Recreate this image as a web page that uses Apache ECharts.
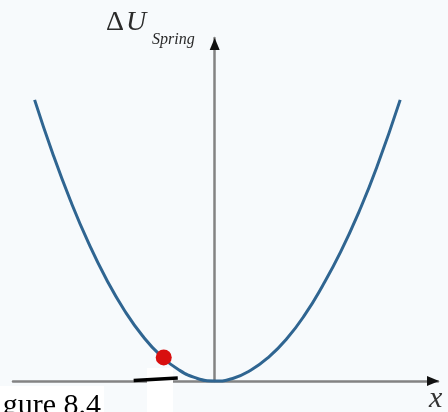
<!DOCTYPE html>
<html>
<head>
<meta charset="utf-8">
<script src="https://cdn.jsdelivr.net/npm/echarts@6/dist/echarts.min.js"></script>
<style>
  html, body { margin: 0; padding: 0; background: #f7fafc; }
  #chart { width: 448px; height: 412px; }
</style>
</head>
<body>
<div id="chart"></div>
<script>
// Spring potential energy curve: displacement x vs. ΔU_spring
const curveX = [-1.00, -0.90, -0.80, -0.70, -0.60, -0.50, -0.40, -0.30, -0.20, -0.10, 0.00,
                 0.10, 0.20, 0.30, 0.40, 0.50, 0.60, 0.70, 0.80, 0.90, 1.03];
const curveU = [1.00, 0.81, 0.64, 0.49, 0.36, 0.25, 0.16, 0.09, 0.04, 0.01, 0.00,
                0.009, 0.038, 0.085, 0.15, 0.235, 0.34, 0.46, 0.60, 0.76, 1.00];
// current position of the mass on the curve
const ballX = [-0.283];
const ballU = [0.084];
// short black stroke near the axis
const strokeX = [-0.45, -0.205];
const strokeU = [0.002, 0.011];
// axis ranges
const xRange = [-1.12, 1.24];
const uRange = [0, 1.22];

const zip = (a, b) => a.map((v, i) => [v, b[i]]);

const chart = echarts.init(document.getElementById('chart'), null, { renderer: 'canvas' });
const serif = "'Liberation Serif', 'DejaVu Serif', serif";
const axisGray = '#838383';

chart.setOption({
  backgroundColor: '#f7fafc',
  animation: false,
  grid: { left: 13, right: 10, top: 38, bottom: 31 },
  xAxis: {
    type: 'value', min: xRange[0], max: xRange[1],
    axisLine: { show: true, onZero: false, lineStyle: { color: axisGray, width: 2.5 } },
    axisTick: { show: false }, axisLabel: { show: false }, splitLine: { show: false }
  },
  yAxis: {
    type: 'value', min: uRange[0], max: uRange[1],
    axisLine: { show: true, onZero: true, lineStyle: { color: axisGray, width: 2.5 } },
    axisTick: { show: false }, axisLabel: { show: false }, splitLine: { show: false }
  },
  series: [
    {
      type: 'line', data: zip(curveX, curveU), smooth: true, showSymbol: false, clip: false,
      lineStyle: { color: '#2f6591', width: 3 }, z: 3
    },
    {
      type: 'scatter', data: zip(ballX, ballU), symbolSize: 16, clip: false,
      itemStyle: { color: '#d80f0f', opacity: 1 }, z: 5
    },
    {
      type: 'line', data: zip(strokeX, strokeU), showSymbol: false, clip: false,
      lineStyle: { color: '#000', width: 3.5 }, z: 6
    },
    {
      // arrowheads at the axis ends
      type: 'scatter', clip: false, z: 6,
      data: [
        { value: [0, uRange[1]], symbolOffset: [0, '50%'] },
        { value: [xRange[1], 0], symbolRotate: -90, symbolOffset: ['-50%', 0] }
      ],
      symbol: 'triangle', symbolSize: [10, 12],
      itemStyle: { color: '#111', opacity: 1 }
    }
  ],
  graphic: [
    { type: 'rect', z: 1, shape: { x: 147, y: 368, width: 26, height: 44 }, style: { fill: '#ffffff' } },
    { type: 'rect', z: 1, shape: { x: 0, y: 386, width: 104, height: 26 }, style: { fill: '#ffffff' } },
    { type: 'text', z: 10, x: 106, y: 9,
      style: { text: 'Δ', font: '28px ' + serif, fill: '#2a2a2a' } },
    { type: 'text', z: 10, x: 126, y: 9,
      style: { text: 'U', font: 'italic 28px ' + serif, fill: '#2a2a2a' } },
    { type: 'text', z: 10, x: 152, y: 32,
      style: { text: 'Spring', font: 'italic 16px ' + serif, fill: '#2a2a2a' } },
    { type: 'text', z: 10, x: 429, y: 384,
      style: { text: 'x', font: 'italic 30px ' + serif, fill: '#333' } },
    { type: 'text', z: 10, x: 101, y: 391,
      style: { text: 'Figure 8.4', font: '30px ' + serif, fill: '#000', align: 'right' } }
  ]
});
</script>
</body>
</html>
